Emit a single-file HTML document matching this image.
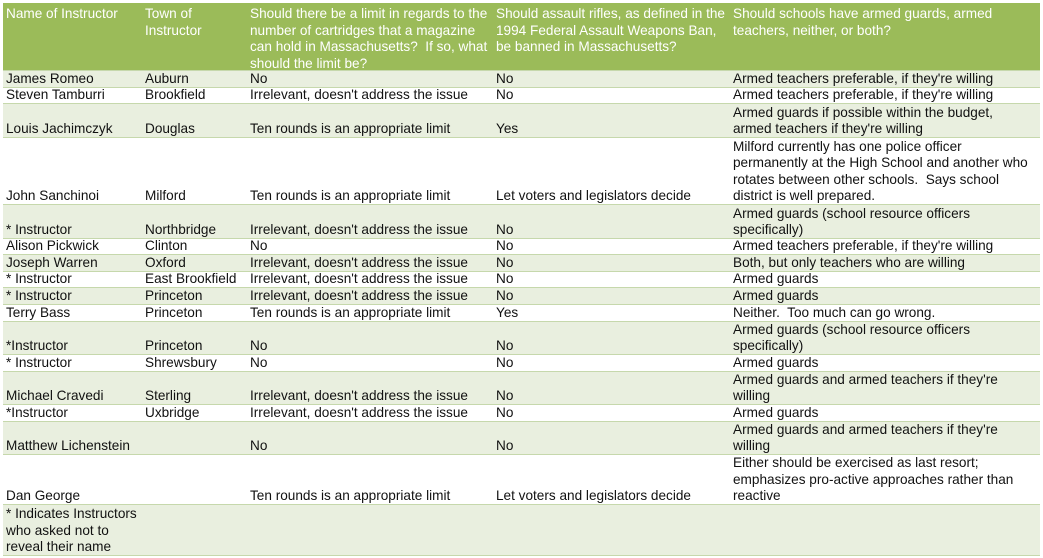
<!DOCTYPE html>
<html><head><meta charset="utf-8"><style>
body{margin:0;width:1043px;height:558px;background:#fff;font-family:"Liberation Sans",Arial,sans-serif;font-size:13.6px;color:#111;position:relative;overflow:hidden}
.tbl{position:absolute;left:3px;top:3px;width:1037px;height:553px;border:1px solid #c9dab0;box-sizing:border-box}
.row{position:absolute;left:3px;width:1037px;border-bottom:1px solid #c6d8ac;box-sizing:border-box}
.g{background:#e9efdf}
.w{background:#fff}
.h{background:#9bbb59;color:#fff}
.c{position:absolute;bottom:-1px;line-height:16.6px;white-space:nowrap}
.h .c{top:3px;bottom:auto}
.c1{left:3px}.c2{left:142px}.c3{left:247px}.c4{left:493px}.c5{left:730px}
</style></head><body>
<div class="tbl"></div>
<div class="row h" style="top:3px;height:68px">
<div class="c c1">Name of Instructor</div>
<div class="c c2">Town of<br>Instructor</div>
<div class="c c3">Should there be a limit in regards to the<br>number of cartridges that a magazine<br>can hold in Massachusetts?&nbsp; If so, what<br>should the limit be?</div>
<div class="c c4">Should assault rifles, as defined in the<br>1994 Federal Assault Weapons Ban,<br>be banned in Massachusetts?</div>
<div class="c c5">Should schools have armed guards, armed<br>teachers, neither, or both?</div>
</div>
<div class="row g" style="top:71px;height:17px"><div class="c c1">James Romeo</div><div class="c c2">Auburn</div><div class="c c3">No</div><div class="c c4">No</div><div class="c c5">Armed teachers preferable, if they're willing</div></div>
<div class="row w" style="top:88px;height:16px"><div class="c c1">Steven Tamburri</div><div class="c c2">Brookfield</div><div class="c c3">Irrelevant, doesn't address the issue</div><div class="c c4">No</div><div class="c c5">Armed teachers preferable, if they're willing</div></div>
<div class="row g" style="top:104px;height:34px"><div class="c c1">Louis Jachimczyk</div><div class="c c2">Douglas</div><div class="c c3">Ten rounds is an appropriate limit</div><div class="c c4">Yes</div><div class="c c5">Armed guards if possible within the budget,<br>armed teachers if they're willing</div></div>
<div class="row w" style="top:138px;height:67px"><div class="c c1">John Sanchinoi</div><div class="c c2">Milford</div><div class="c c3">Ten rounds is an appropriate limit</div><div class="c c4">Let voters and legislators decide</div><div class="c c5">Milford currently has one police officer<br>permanently at the High School and another who<br>rotates between other schools.&nbsp; Says school<br>district is well prepared.</div></div>
<div class="row g" style="top:205px;height:34px"><div class="c c1">* Instructor</div><div class="c c2">Northbridge</div><div class="c c3">Irrelevant, doesn't address the issue</div><div class="c c4">No</div><div class="c c5">Armed guards (school resource officers<br>specifically)</div></div>
<div class="row w" style="top:239px;height:16px"><div class="c c1">Alison Pickwick</div><div class="c c2">Clinton</div><div class="c c3">No</div><div class="c c4">No</div><div class="c c5">Armed teachers preferable, if they're willing</div></div>
<div class="row g" style="top:255px;height:17px"><div class="c c1">Joseph Warren</div><div class="c c2">Oxford</div><div class="c c3">Irrelevant, doesn't address the issue</div><div class="c c4">No</div><div class="c c5">Both, but only teachers who are willing</div></div>
<div class="row w" style="top:272px;height:16px"><div class="c c1">* Instructor</div><div class="c c2">East Brookfield</div><div class="c c3">Irrelevant, doesn't address the issue</div><div class="c c4">No</div><div class="c c5">Armed guards</div></div>
<div class="row g" style="top:288px;height:17px"><div class="c c1">* Instructor</div><div class="c c2">Princeton</div><div class="c c3">Irrelevant, doesn't address the issue</div><div class="c c4">No</div><div class="c c5">Armed guards</div></div>
<div class="row w" style="top:305px;height:17px"><div class="c c1">Terry Bass</div><div class="c c2">Princeton</div><div class="c c3">Ten rounds is an appropriate limit</div><div class="c c4">Yes</div><div class="c c5">Neither.&nbsp; Too much can go wrong.</div></div>
<div class="row g" style="top:322px;height:33px"><div class="c c1">*Instructor</div><div class="c c2">Princeton</div><div class="c c3">No</div><div class="c c4">No</div><div class="c c5">Armed guards (school resource officers<br>specifically)</div></div>
<div class="row w" style="top:355px;height:17px"><div class="c c1">* Instructor</div><div class="c c2">Shrewsbury</div><div class="c c3">No</div><div class="c c4">No</div><div class="c c5">Armed guards</div></div>
<div class="row g" style="top:372px;height:33px"><div class="c c1">Michael Cravedi</div><div class="c c2">Sterling</div><div class="c c3">Irrelevant, doesn't address the issue</div><div class="c c4">No</div><div class="c c5">Armed guards and armed teachers if they're<br>willing</div></div>
<div class="row w" style="top:405px;height:17px"><div class="c c1">*Instructor</div><div class="c c2">Uxbridge</div><div class="c c3">Irrelevant, doesn't address the issue</div><div class="c c4">No</div><div class="c c5">Armed guards</div></div>
<div class="row g" style="top:422px;height:33px"><div class="c c1">Matthew Lichenstein</div><div class="c c3">No</div><div class="c c4">No</div><div class="c c5">Armed guards and armed teachers if they're<br>willing</div></div>
<div class="row w" style="top:455px;height:50px"><div class="c c1">Dan George</div><div class="c c3">Ten rounds is an appropriate limit</div><div class="c c4">Let voters and legislators decide</div><div class="c c5">Either should be exercised as last resort;<br>emphasizes pro-active approaches rather than<br>reactive</div></div>
<div class="row g" style="top:505px;height:51px"><div class="c c1">* Indicates Instructors<br>who asked not to<br>reveal their name</div></div>
</body></html>
